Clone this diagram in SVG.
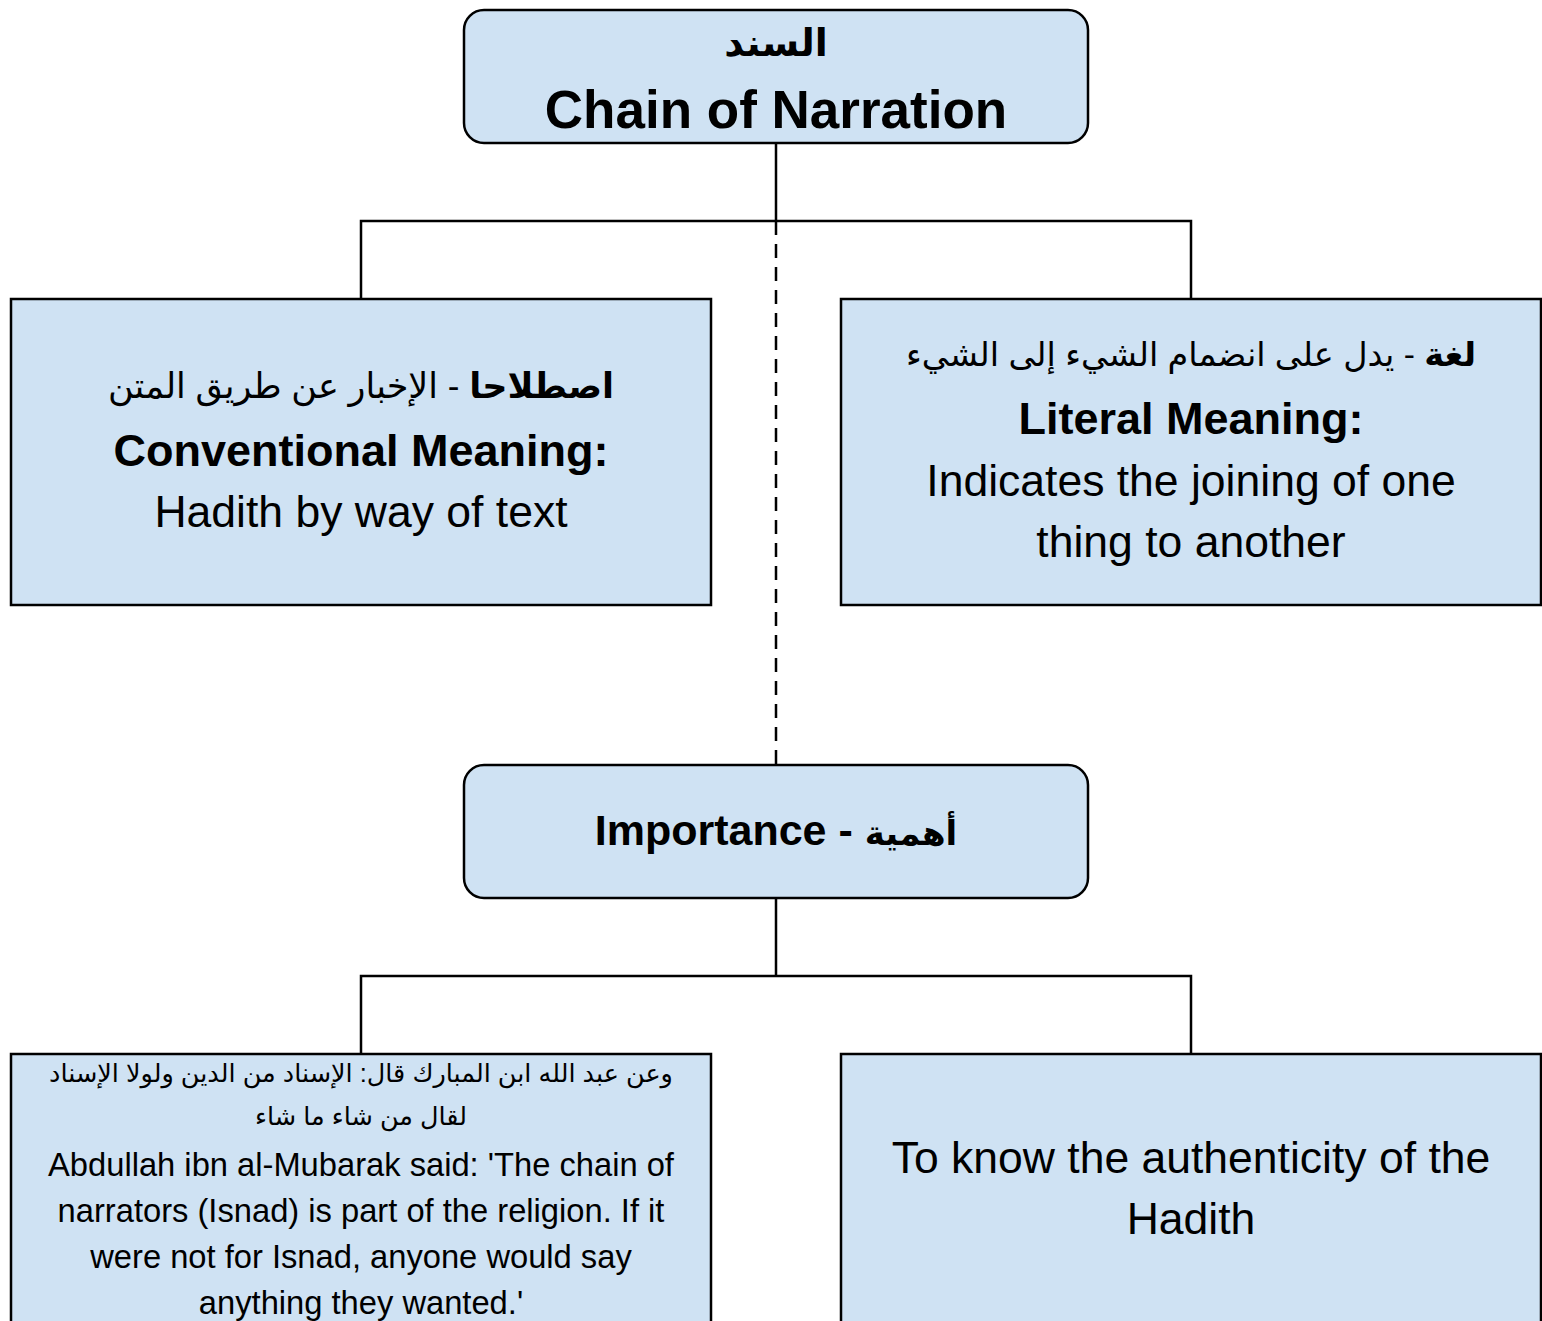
<svg xmlns="http://www.w3.org/2000/svg" width="1542" height="1321" viewBox="0 0 1542 1321">
<style>
.box{fill:#cfe2f3;stroke:#000;stroke-width:2.5}
.t{font-family:"Liberation Sans","DejaVu Sans",sans-serif;fill:#000;text-anchor:middle}
.b{font-weight:bold}
.ln{fill:none;stroke:#000;stroke-width:2.5}
.dash{fill:none;stroke:#000;stroke-width:2.5;stroke-dasharray:14 9}
</style>
<rect width="1542" height="1321" fill="#fff"/>
<g id="connectors">
<path class="ln" d="M776 143V221M361 299V221H1191V299"/>
<path class="dash" d="M776 221V765"/>
<path class="ln" d="M776 898V976M361 1054V976H1191V1054"/>
</g>
<g id="chain">
<rect class="box" x="464" y="10" width="624" height="133" rx="20"/>
<text class="t b" x="776" y="56" font-size="38" direction="rtl">السند</text>
<text class="t b" x="776" y="128" font-size="53">Chain of Narration</text>
</g>
<g id="conventional">
<rect class="box" x="11" y="299" width="700" height="306"/>
<text class="t" x="361" y="398" font-size="35" direction="rtl"><tspan font-weight="bold">اصطلاحا</tspan> - الإخبار عن طريق المتن</text>
<text class="t b" x="361" y="466" font-size="45">Conventional Meaning:</text>
<text class="t" x="361" y="527" font-size="44.5">Hadith by way of text</text>
</g>
<g id="literal">
<rect class="box" x="841" y="299" width="700" height="306"/>
<text class="t" x="1191" y="366" font-size="33.5" direction="rtl"><tspan font-weight="bold">لغة</tspan> - يدل على انضمام الشيء إلى الشيء</text>
<text class="t b" x="1191" y="434" font-size="45">Literal Meaning:</text>
<text class="t" x="1191" y="496" font-size="44.5">Indicates the joining of one</text>
<text class="t" x="1191" y="557" font-size="44.5">thing to another</text>
</g>
<g id="importance">
<rect class="box" x="464" y="765" width="624" height="133" rx="20"/>
<text class="t b" x="776" y="845" font-size="43">Importance - <tspan font-size="34">أهمية</tspan></text>
</g>
<g id="quote">
<rect class="box" x="11" y="1054" width="700" height="300"/>
<text class="t" x="361" y="1082" font-size="25.5" direction="rtl">وعن عبد الله ابن المبارك قال: الإسناد من الدين ولولا الإسناد</text>
<text class="t" x="361" y="1125" font-size="25.5" direction="rtl">لقال من شاء ما شاء</text>
<text class="t" x="361" y="1176" font-size="32.7">Abdullah ibn al-Mubarak said: 'The chain of</text>
<text class="t" x="361" y="1222" font-size="32.7">narrators (Isnad) is part of the religion. If it</text>
<text class="t" x="361" y="1268" font-size="32.7">were not for Isnad, anyone would say</text>
<text class="t" x="361" y="1314" font-size="32.7">anything they wanted.'</text>
</g>
<g id="authenticity">
<rect class="box" x="841" y="1054" width="700" height="300"/>
<text class="t" x="1191" y="1173" font-size="44.5">To know the authenticity of the</text>
<text class="t" x="1191" y="1234" font-size="44.5">Hadith</text>
</g>
</svg>
